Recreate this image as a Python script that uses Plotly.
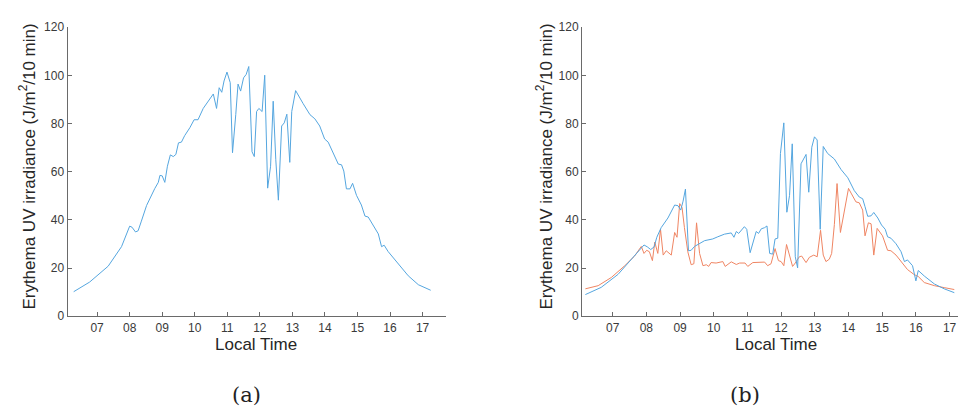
import plotly.graph_objects as go

# ---- data (a) ----
a_time = [6.28, 6.77, 7.34, 7.75, 8.0, 8.07, 8.18, 8.26, 8.36, 8.52, 8.77, 8.88, 8.93, 9.0, 9.08,
          9.16, 9.25, 9.34, 9.42, 9.5, 9.59, 9.69, 9.85, 9.98, 10.1, 10.26, 10.57, 10.67, 10.75,
          10.83, 10.9, 10.99, 11.09, 11.16, 11.26, 11.33, 11.41, 11.5, 11.58, 11.66, 11.76, 11.83,
          11.9, 11.97, 12.07, 12.15, 12.24, 12.33, 12.41, 12.49, 12.57, 12.67, 12.75, 12.83, 12.92,
          12.98, 13.1, 13.21, 13.33, 13.54, 13.69, 13.84, 13.99, 14.1, 14.3, 14.41, 14.51, 14.58,
          14.66, 14.77, 14.85, 14.97, 15.12, 15.23, 15.33, 15.48, 15.64, 15.74, 15.82, 15.94, 16.15,
          16.56, 16.87, 17.25]
a_uv = [10.2, 14.2, 20.8, 28.9, 37.4, 37.0, 35.0, 35.5, 39.5, 46.0, 53.0, 55.6, 58.5, 58.3, 55.6,
        62.3, 67.0, 66.3, 67.2, 72.0, 72.3, 75.0, 78.3, 81.6, 81.6, 86.3, 92.3, 86.3, 94.9,
        93.0, 97.7, 101.4, 97.0, 67.9, 83.7, 96.4, 93.5, 99.0, 100.4, 103.7, 68.3, 66.3,
        85.0, 86.3, 85.0, 100.1, 53.2, 62.3, 89.3, 65.0, 48.2, 79.0, 80.3, 83.9, 63.9,
        85.0, 93.7, 91.0, 88.3, 83.7, 82.0, 79.0, 73.6, 72.3, 66.3, 63.2, 62.9, 60.3,
        52.9, 52.9, 55.2, 50.2, 46.2, 41.6, 41.2, 37.6, 34.2, 28.9, 29.5, 26.9, 23.5,
        16.8, 13.1, 10.8]

# ---- data (b) blue ----
b1_time = [6.19, 6.66, 7.16, 7.55, 7.8, 7.93, 8.03, 8.13, 8.23, 8.31, 8.44, 8.64, 8.84, 8.94, 9.02,
           9.09, 9.16, 9.25, 9.33, 9.43, 9.73, 9.97, 10.12, 10.32, 10.52, 10.6, 10.67, 10.74, 10.91,
           10.98, 11.08, 11.26, 11.33, 11.41, 11.51, 11.58, 11.66, 11.75, 11.82, 11.9, 11.98, 12.08,
           12.17, 12.25, 12.33, 12.42, 12.49, 12.59, 12.74, 12.82, 12.91, 12.99, 13.07, 13.16, 13.25,
           13.38, 13.58, 13.78, 13.98, 14.17, 14.32, 14.42, 14.49, 14.57, 14.67, 14.75, 14.87, 14.98,
           15.09, 15.16, 15.26, 15.41, 15.56, 15.66, 15.75, 15.9, 16.0, 16.07, 16.25, 16.55, 16.84, 17.14]
b1_uv = [9.0, 12.0, 17.4, 23.4, 27.4, 29.6, 28.8, 27.7, 28.8, 32.8, 36.8, 40.8, 46.2, 45.9, 44.1,
         47.8, 52.8, 27.2, 27.4, 29.0, 31.4, 32.1, 33.0, 34.1, 34.6, 32.8, 35.2, 34.4, 37.2,
         36.1, 26.4, 35.2, 34.4, 36.3, 36.8, 37.5, 26.1, 25.8, 32.1, 32.4, 67.6, 80.3,
         43.2, 50.2, 71.6, 24.7, 20.1, 63.3, 67.2, 51.5, 70.2, 74.5, 73.2, 36.1, 70.5,
         67.6, 65.3, 60.9, 57.5, 52.2, 49.5, 48.8, 45.5, 41.5, 41.7, 43.1, 40.8, 37.9,
         36.1, 33.0, 32.4, 30.1, 26.8, 22.7, 23.4, 21.0, 14.7, 19.0, 16.7, 13.4, 11.4, 9.8]

# ---- data (b) red ----
b2_time = [6.19, 6.57, 6.96, 7.36, 7.65, 7.85, 7.93, 8.01, 8.09, 8.18, 8.25, 8.34, 8.42, 8.5, 8.59,
           8.74, 8.84, 8.91, 8.99, 9.06, 9.13, 9.23, 9.33, 9.41, 9.49, 9.58, 9.68, 9.78, 9.85, 9.92,
           10.07, 10.27, 10.34, 10.52, 10.67, 10.77, 10.93, 11.01, 11.16, 11.31, 11.51, 11.6, 11.7,
           11.82, 11.92, 12.0, 12.08, 12.16, 12.26, 12.34, 12.42, 12.54, 12.61, 12.74, 12.84, 12.97,
           13.07, 13.17, 13.25, 13.33, 13.43, 13.5, 13.58, 13.66, 13.76, 13.88, 14.0, 14.09, 14.22,
           14.32, 14.42, 14.49, 14.59, 14.67, 14.75, 14.85, 14.95, 15.01, 15.16, 15.26, 15.41, 15.56,
           15.75, 15.94, 16.07, 16.25, 16.55, 16.84, 17.14]
b2_uv = [11.4, 12.7, 16.1, 21.0, 25.0, 29.0, 26.1, 27.4, 26.8, 23.1, 30.8, 26.1, 36.1, 25.4, 27.2,
         25.4, 34.8, 32.8, 46.8, 45.1, 36.8, 26.8, 21.4, 21.8, 38.8, 26.1, 21.0, 21.4, 20.7, 22.3,
         22.1, 22.7, 20.7, 22.6, 21.5, 22.1, 22.1, 20.7, 22.3, 22.3, 22.5, 21.0, 21.8,
         28.1, 23.1, 22.7, 21.0, 29.8, 25.0, 20.7, 22.1, 24.7, 25.0, 22.3, 24.5, 25.4,
         24.7, 35.7, 25.4, 22.7, 23.7, 26.1, 38.1, 55.1, 34.8, 44.8, 53.1, 50.8, 47.5,
         47.1, 44.1, 33.4, 38.8, 38.4, 25.4, 36.5, 34.8, 33.4, 27.4, 27.2, 25.4, 22.7,
         19.4, 17.4, 16.5, 14.0, 12.7, 11.9, 11.1]

tick_vals = [7, 8, 9, 10, 11, 12, 13, 14, 15, 16, 17]
tick_text = ["07", "08", "09", "10", "11", "12", "13", "14", "15", "16", "17"]
y_ticks = [0, 20, 40, 60, 80, 100, 120]

BLUE = "#55a6df"
RED = "#ef8563"
AXC = "#6a6a6a"

fig = go.Figure()
fig.add_trace(go.Scatter(x=a_time, y=a_uv, mode="lines", line=dict(color=BLUE, width=1),
                         xaxis="x", yaxis="y", showlegend=False))
fig.add_trace(go.Scatter(x=b2_time, y=b2_uv, mode="lines", line=dict(color=RED, width=1),
                         xaxis="x2", yaxis="y2", showlegend=False))
fig.add_trace(go.Scatter(x=b1_time, y=b1_uv, mode="lines", line=dict(color=BLUE, width=1),
                         xaxis="x2", yaxis="y2", showlegend=False))

tfont = dict(family="Liberation Sans, Arial", size=12, color="#3a3a3a")
xcommon = dict(tickvals=tick_vals, ticktext=tick_text, ticks="inside",
               ticklen=4, tickcolor=AXC, showline=True, linecolor=AXC, linewidth=1,
               showgrid=False, zeroline=False, tickfont=tfont)
ycommon = dict(range=[0, 120], tickvals=y_ticks, ticks="inside", ticklen=4, tickcolor=AXC,
               showline=True, linecolor=AXC, linewidth=1, showgrid=False, zeroline=False,
               tickfont=tfont)

y_dom = [1 - 312 / 407, 1 - 12.7 / 407]
fig.update_layout(
    width=966, height=407, margin=dict(l=0, r=0, t=0, b=0),
    paper_bgcolor="white", plot_bgcolor="white",
    xaxis=dict(domain=[59.5 / 966, 438 / 966], anchor="y", range=[6.09, 17.72], **xcommon),
    yaxis=dict(domain=y_dom, anchor="x", **ycommon),
    xaxis2=dict(domain=[574 / 966, 964.5 / 966], anchor="y2", range=[6.09, 17.68], **xcommon),
    yaxis2=dict(domain=y_dom, anchor="x2", **ycommon),
)

title_font = dict(family="Liberation Sans, Arial", size=17, color="#262626")
ytitle = "Erythema UV irradiance (J/m<sup>2</sup>/10 min)"
for xc, xl in [(248, 19), (768, 536)]:
    fig.add_annotation(text="Local Time", x=xc / 966, y=1 - 341 / 407, xref="paper", yref="paper",
                       showarrow=False, font=title_font, xanchor="center", yanchor="middle")
    fig.add_annotation(text=ytitle, x=xl / 966, y=1 - 157 / 407, xref="paper", yref="paper",
                       showarrow=False, font=title_font, textangle=-90,
                       xanchor="center", yanchor="middle")

cap_font = dict(family="DejaVu Serif, Liberation Serif", size=21, color="#222")
fig.add_annotation(text="(a)", x=238 / 966, y=1 - 394 / 407, xref="paper", yref="paper",
                   showarrow=False, font=cap_font, xanchor="center", yanchor="middle")
fig.add_annotation(text="(b)", x=737 / 966, y=1 - 394 / 407, xref="paper", yref="paper",
                   showarrow=False, font=cap_font, xanchor="center", yanchor="middle")

fig.write_html("out.html")
